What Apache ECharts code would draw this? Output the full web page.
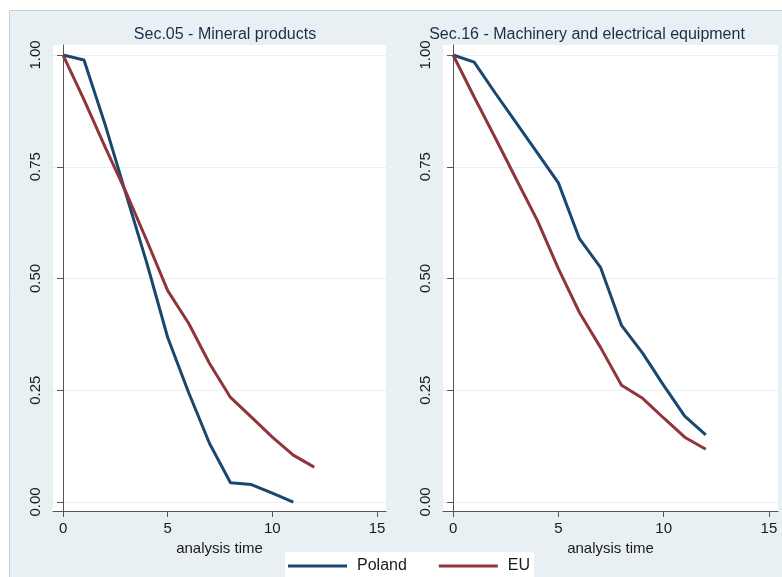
<!DOCTYPE html>
<html>
<head>
<meta charset="utf-8">
<script src="https://cdn.jsdelivr.net/npm/echarts@6/dist/echarts.min.js"></script>
<style>
	html, body { margin: 0; padding: 0; background: #fff; }
	#chart { width: 782px; height: 577px; }
</style>
</head>
<body>
<div id="chart"></div>
<script>
// analysis time (years)
let time = [0, 1, 2, 3, 4, 5, 6, 7, 8, 9, 10, 11, 12];
let xTicks = [0, 5, 10, 15];
let yTicks = [0, 0.25, 0.5, 0.75, 1];

// Sec.05 - Mineral products
let mineralPoland = [1.00, 0.989, 0.846, 0.69, 0.535, 0.368, 0.245, 0.131, 0.043, 0.039, 0.02, 0.0];
let mineralEU = [1.00, 0.90, 0.795, 0.694, 0.585, 0.473, 0.40, 0.31, 0.234, 0.19, 0.145, 0.105, 0.078];

// Sec.16 - Machinery and electrical equipment
let machineryPoland = [1.00, 0.984, 0.915, 0.848, 0.781, 0.714, 0.589, 0.525, 0.395, 0.333, 0.261, 0.192, 0.150];
let machineryEU = [1.00, 0.906, 0.815, 0.722, 0.63, 0.522, 0.424, 0.346, 0.261, 0.232, 0.188, 0.145, 0.118];

let titles = ['Sec.05 - Mineral products', 'Sec.16 - Machinery and electrical equipment'];

const FONT = 'Liberation Sans, Arial, sans-serif';
const NAVY = '#1a476f';
const MAROON = '#90353b';
const AXIS = '#555';

function pairs(vals) {
	return vals.map((v, i) => [time[i], v]);
}

function xAxisFor(idx) {
	return {
		type: 'value',
		gridIndex: idx,
		min: -0.48,
		max: 15.43,
		name: 'analysis time',
		nameLocation: 'middle',
		nameGap: 26,
		nameTextStyle: { fontFamily: FONT, fontSize: 15, color: '#1a1a1a' },
		axisLine: { show: true, onZero: false, lineStyle: { color: AXIS, width: 1 } },
		axisTick: { show: true, length: 6, customValues: xTicks, lineStyle: { color: AXIS } },
		axisLabel: { customValues: xTicks, margin: 10, fontFamily: FONT, fontSize: 15, color: '#1a1a1a' },
		splitLine: { show: false }
	};
}

function yAxisFor(idx) {
	return {
		type: 'value',
		gridIndex: idx,
		min: -0.0201,
		max: 1.0224,
		axisLine: { show: true, lineStyle: { color: AXIS, width: 1 } },
		axisTick: { show: true, length: 6, customValues: yTicks, lineStyle: { color: AXIS } },
		axisLabel: {
			customValues: yTicks,
			rotate: 90,
			margin: 10,
			fontFamily: FONT,
			fontSize: 15,
			color: '#1a1a1a',
			formatter: v => v.toFixed(2)
		},
		splitLine: { show: true, lineStyle: { color: '#e8f0f3', width: 1 } }
	};
}

function lineSeries(name, vals, color, idx) {
	return {
		name: name,
		type: 'line',
		xAxisIndex: idx,
		yAxisIndex: idx,
		showSymbol: false,
		symbol: 'none',
		lineStyle: { color: color, width: 3 },
		itemStyle: { color: color },
		data: pairs(vals)
	};
}

let myChart = echarts.init(document.getElementById('chart'), null, { renderer: 'canvas' });

let option = {
	backgroundColor: '#fff',
	animation: false,
	textStyle: { fontFamily: FONT },
	graphic: [{
		type: 'rect',
		z: -10,
		shape: { x: 9.5, y: 10.5, width: 780, height: 570 },
		style: { fill: '#e8f0f3', stroke: '#c8cdd0', lineWidth: 1 }
	}],
	title: [{
		text: titles[0],
		left: 220,
		top: 22,
		textAlign: 'center',
		textStyle: { fontFamily: FONT, fontSize: 16, fontWeight: 'normal', color: '#1c2c4c' }
	}, {
		text: titles[1],
		left: 582,
		top: 22,
		textAlign: 'center',
		textStyle: { fontFamily: FONT, fontSize: 16, fontWeight: 'normal', color: '#1c2c4c' }
	}],
	legend: {
		data: ['Poland', 'EU'],
		left: 285,
		top: 552,
		padding: [6, 4, 6, 3],
		backgroundColor: '#fff',
		icon: 'rect',
		itemWidth: 59,
		itemHeight: 3,
		itemGap: 32,
		textStyle: { fontFamily: FONT, fontSize: 16, color: '#1a1a1a', padding: [0, 0, 0, 5] }
	},
	grid: [
		{ left: 53, top: 45, width: 333, height: 466, show: true, backgroundColor: '#fff', borderWidth: 0 },
		{ left: 443, top: 45, width: 335, height: 466, show: true, backgroundColor: '#fff', borderWidth: 0 }
	],
	xAxis: [xAxisFor(0), xAxisFor(1)],
	yAxis: [yAxisFor(0), yAxisFor(1)],
	series: [
		lineSeries('Poland', mineralPoland, NAVY, 0),
		lineSeries('EU', mineralEU, MAROON, 0),
		lineSeries('Poland', machineryPoland, NAVY, 1),
		lineSeries('EU', machineryEU, MAROON, 1)
	]
};

myChart.setOption(option);
</script>
</body>
</html>
